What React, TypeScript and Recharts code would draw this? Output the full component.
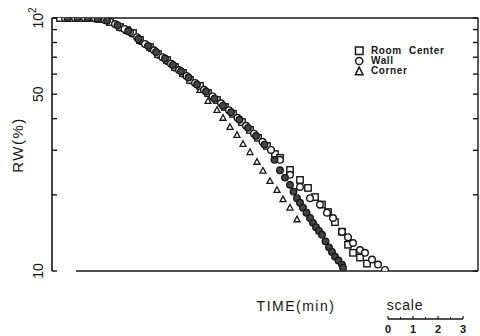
import { ScatterChart, Scatter, XAxis, YAxis, ReferenceLine, Legend } from 'recharts';

// time in minutes, RW in percent (log scale 10..100)
const roomCenterTime = [0.32, 0.72, 1.12, 1.52, 1.92, 2.32, 2.72, 3.0, 3.24, 3.52, 3.92, 4.24, 4.6, 4.92, 5.24, 5.52, 5.92, 6.24, 6.6, 6.92, 7.24, 7.6, 7.92, 8.24, 8.6, 8.92, 9.12, 9.52, 9.92, 10.24, 10.52, 10.8, 11.04, 11.32, 11.6, 11.84, 12.04, 12.32, 12.6];
const roomCenterRW = [100, 100, 100, 100, 99.1, 96.4, 92.1, 89.6, 87.2, 81.8, 76.8, 72.0, 68.2, 64.0, 60.6, 56.9, 53.9, 50.5, 47.4, 44.5, 41.8, 38.8, 36.1, 33.6, 31.2, 29.0, 28.0, 25.1, 22.9, 21.3, 19.6, 18.3, 17.1, 15.6, 14.3, 12.7, 11.8, 11.3, 10.7];

const wallTime = [0.52, 0.92, 1.32, 1.72, 2.12, 2.52, 2.9, 3.12, 3.4, 3.72, 4.08, 4.42, 4.76, 5.08, 5.38, 5.72, 6.08, 6.42, 6.76, 7.08, 7.42, 7.76, 8.08, 8.42, 8.76, 9.12, 9.52, 9.92, 10.32, 10.72, 11.0, 11.24, 11.6, 11.84, 12.04, 12.32, 12.52, 12.8, 13.04, 13.32];
const wallRW = [100, 100, 100, 99.6, 98.2, 94.7, 90.5, 88.0, 84.0, 79.0, 74.5, 70.0, 66.0, 62.3, 59.0, 55.4, 52.0, 49.0, 46.0, 43.2, 40.3, 37.5, 34.9, 32.4, 30.1, 27.5, 24.0, 21.5, 19.4, 18.3, 17.0, 16.2, 14.3, 13.6, 12.9, 12.1, 11.8, 11.1, 10.6, 10.1];

// second wall run, drawn as dense dark circles
const wall2Time = [0.62, 1.02, 1.42, 1.82, 2.2, 2.62, 3.05, 3.46, 3.84, 4.16, 4.52, 4.84, 5.16, 5.46, 5.8, 6.16, 6.5, 6.84, 7.16, 7.5, 7.84, 8.16, 8.5, 8.9, 9.12, 9.32, 9.52, 9.66, 9.8, 9.92, 10.04, 10.18, 10.32, 10.44, 10.56, 10.68, 10.8, 10.94, 11.08, 11.2, 11.32, 11.46, 11.6, 11.64];
const wall2RW = [100, 100, 100, 99.4, 97.6, 93.6, 88.8, 82.6, 77.6, 73.4, 69.2, 65.2, 61.6, 58.2, 54.6, 51.2, 48.0, 45.0, 42.4, 39.6, 36.8, 34.2, 31.6, 27.5, 25.0, 23.4, 21.9, 20.6, 19.4, 18.6, 17.8, 17.0, 16.2, 15.5, 14.9, 14.4, 13.9, 13.1, 12.4, 11.9, 11.4, 11.0, 10.6, 10.3];

const cornerTime = [0.42, 0.82, 1.22, 1.62, 2.02, 2.42, 2.82, 3.08, 3.3, 3.62, 4.0, 4.34, 4.68, 5.0, 5.32, 5.62, 5.92, 6.24, 6.6, 6.84, 7.12, 7.4, 7.64, 7.92, 8.2, 8.44, 8.72, 9.0, 9.24, 9.52, 9.8];
const cornerRW = [100, 100, 100, 100, 98.8, 95.5, 91.0, 88.5, 86.0, 80.5, 75.5, 71.0, 67.0, 63.2, 59.8, 56.2, 51.9, 47.0, 43.3, 40.3, 37.1, 34.5, 31.8, 29.5, 27.0, 24.9, 22.7, 20.9, 19.2, 17.8, 16.0];

const yTicks = [10, 20, 30, 40, 50, 60, 70, 80, 90, 100];
const scaleTicks = ['0', '1', '2', '3'];

const zip = (t: number[], v: number[]) => t.map((x, i) => ({ t: x, v: v[i] }));

const INK = '#161616';
const FONT = '"Liberation Sans", Arial, sans-serif';

const SquareDot = (p: any) => (
  <rect x={p.cx - 3.2} y={p.cy - 3.2} width={6.4} height={6.4} fill="#fff" stroke={INK} strokeWidth={1.4} />
);
const CircleDot = (p: any) => <circle cx={p.cx} cy={p.cy} r={3.3} fill="#fff" stroke={INK} strokeWidth={1.4} />;
const DarkDot = (p: any) => <circle cx={p.cx} cy={p.cy} r={3.3} fill="#444" stroke={INK} strokeWidth={1.3} />;
const TriDot = (p: any) => (
  <path d={`M${p.cx},${p.cy - 3.2}L${p.cx + 3},${p.cy + 2.4}L${p.cx - 3},${p.cy + 2.4}Z`} fill="#fff" stroke={INK} strokeWidth={1.3} />
);

function LeftTick(props: any) {
  const { x, y, payload } = props;
  const v = payload.value;
  const lx = x - 14;
  return (
    <g>
      <line x1={x} y1={y} x2={x + 5} y2={y} stroke={INK} strokeWidth={1.4} />
      {(v === 10 || v === 50) && (
        <text x={lx} y={y} transform={`rotate(-90, ${lx}, ${y})`} textAnchor="middle" dominantBaseline="central" fontSize={14} fontFamily={FONT} fill={INK}>
          {v}
        </text>
      )}
      {v === 100 && (
        <text x={lx} y={y} transform={`rotate(-90, ${lx}, ${y})`} textAnchor="middle" dominantBaseline="central" fontSize={14} fontFamily={FONT} fill={INK}>
          10<tspan dy={-6} fontSize={10}>2</tspan>
        </text>
      )}
    </g>
  );
}

function RightTick(props: any) {
  const { x, y } = props;
  return <line x1={x} y1={y} x2={x - 5} y2={y} stroke={INK} strokeWidth={1.4} />;
}

const legendRows = [
  { name: 'Room Center', mark: 'square' },
  { name: 'Wall', mark: 'circle' },
  { name: 'Corner', mark: 'triangle' },
];

function LegendBox() {
  return (
    <div style={{ fontFamily: FONT, fontWeight: 'bold', fontSize: 10, color: INK, lineHeight: '10px', letterSpacing: 0.6 }}>
      {legendRows.map((r) => (
        <div key={r.name} style={{ display: 'flex', alignItems: 'center', height: 10 }}>
          <svg width={14} height={10} style={{ marginRight: 3 }}>
            {r.mark === 'square' && <rect x={1.5} y={1} width={7.5} height={7.5} fill="#fff" stroke={INK} strokeWidth={1.5} />}
            {r.mark === 'circle' && <circle cx={5.2} cy={5} r={3.6} fill="#fff" stroke={INK} strokeWidth={1.5} />}
            {r.mark === 'triangle' && <path d="M5.2,1 L9,8.8 L1.4,8.8 Z" fill="#fff" stroke={INK} strokeWidth={1.5} />}
          </svg>
          <span style={{ wordSpacing: 4 }}>{r.name}</span>
        </div>
      ))}
    </div>
  );
}

export default function App() {
  return (
    <div style={{ position: 'absolute', left: 0, top: 0, width: 480, height: 336, background: '#fff' }}>
      <ScatterChart width={480} height={336} margin={{ top: 18, right: 1, bottom: 65, left: 51 }}>
        <XAxis type="number" dataKey="t" domain={[0, 17.04]} hide allowDataOverflow />
        <YAxis
          yAxisId="l"
          type="number"
          dataKey="v"
          scale="log"
          domain={[10, 100]}
          ticks={yTicks}
          interval={0}
          width={1}
          tickSize={0}
          tickMargin={0}
          tickLine={false}
          tick={<LeftTick />}
          axisLine={{ stroke: INK, strokeWidth: 1.6 }}
          allowDataOverflow
        />
        <YAxis
          yAxisId="r"
          orientation="right"
          type="number"
          dataKey="v"
          scale="log"
          domain={[10, 100]}
          ticks={yTicks}
          interval={0}
          width={1}
          tickSize={0}
          tickMargin={0}
          tickLine={false}
          tick={<RightTick />}
          axisLine={{ stroke: INK, strokeWidth: 1.4 }}
          allowDataOverflow
        />
        <ReferenceLine yAxisId="l" y={100} stroke={INK} strokeWidth={1.4} />
        <ReferenceLine
          yAxisId="l"
          segment={[{ x: 0.96, y: 10 }, { x: 17.04, y: 10 }]}
          stroke={INK}
          strokeWidth={1.5}
        />
        <Legend
          layout="vertical"
          align="center"
          verticalAlign="middle"
          wrapperStyle={{ left: 354, top: 46, width: 110 }}
          content={<LegendBox />}
        />
        <Scatter yAxisId="l" name="Corner" data={zip(cornerTime, cornerRW)} shape={TriDot} isAnimationActive={false} />
        <Scatter yAxisId="l" name="Room Center" data={zip(roomCenterTime, roomCenterRW)} shape={SquareDot} isAnimationActive={false} />
        <Scatter yAxisId="l" name="Wall" data={zip(wallTime, wallRW)} shape={CircleDot} isAnimationActive={false} />
        <Scatter yAxisId="l" name="Wall 2" data={zip(wall2Time, wall2RW)} shape={DarkDot} legendType="none" isAnimationActive={false} />
      </ScatterChart>
      <svg width={480} height={336} style={{ position: 'absolute', left: 0, top: 0, pointerEvents: 'none' }} fontFamily={FONT} fill={INK}>
        <text x={17} y={145} transform="rotate(-90, 17, 145)" textAnchor="middle" dominantBaseline="central" fontSize={15} letterSpacing={1.5}>
          RW(%)
        </text>
        <text x={296} y={311} textAnchor="middle" fontSize={14} letterSpacing={1.5}>
          TIME(min)
        </text>
        <text x={405} y={310} textAnchor="middle" fontSize={14} letterSpacing={0.8}>
          scale
        </text>
        <line x1={388} y1={319} x2={463} y2={319} stroke={INK} strokeWidth={1.4} />
        {scaleTicks.map((s, i) => (
          <g key={s}>
            <line x1={388 + i * 25} y1={319} x2={388 + i * 25} y2={316} stroke={INK} strokeWidth={1.2} />
            {i < 3 && <line x1={400.5 + i * 25} y1={319} x2={400.5 + i * 25} y2={317} stroke={INK} strokeWidth={1} />}
            <text x={388 + i * 25} y={333} textAnchor="middle" fontSize={11} fontWeight="bold">
              {s}
            </text>
          </g>
        ))}
      </svg>
    </div>
  );
}
